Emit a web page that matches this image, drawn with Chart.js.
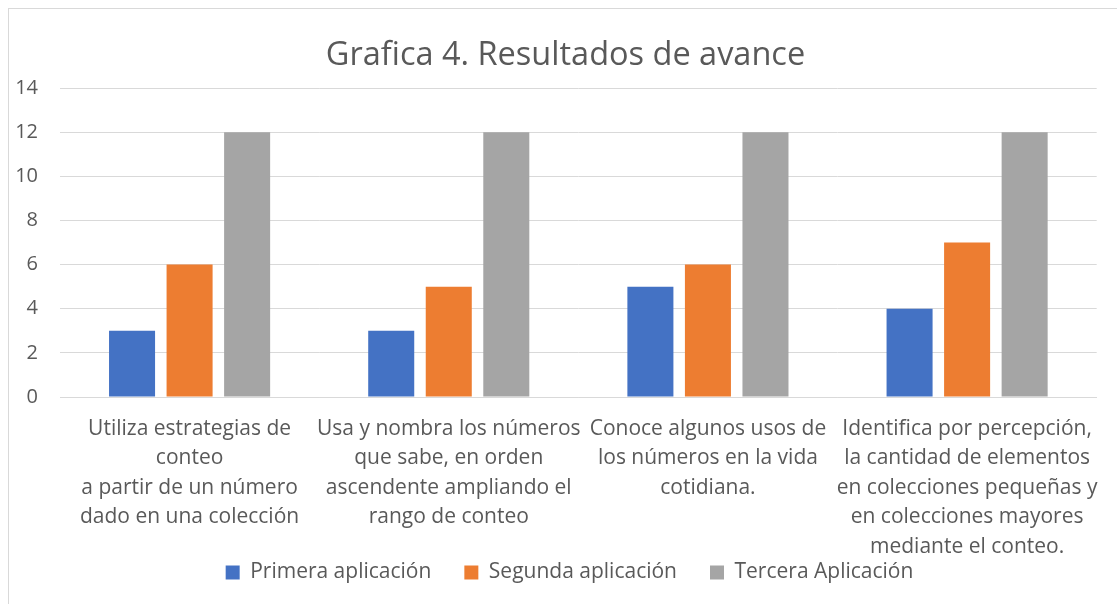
<!DOCTYPE html>
<html><head><meta charset="utf-8">
<script src="https://cdn.jsdelivr.net/npm/chart.js@4.4.1/dist/chart.umd.min.js"></script>
<style>
html,body{margin:0;padding:0;background:#fff;overflow:hidden;}
#frame{position:absolute;left:8px;top:8px;width:1200px;height:700px;border-left:1px solid #d9d9d9;border-top:1px solid #d9d9d9;}
#wrap{position:absolute;left:0;top:0;width:1117px;height:604px;}
</style></head><body>
<div id="frame"></div>
<div id="wrap"><canvas id="c"></canvas></div>
<script>
const titleText = "Grafica 4. Resultados de avance";
const categories = [
  ["Utiliza estrategias de", "conteo", "a partir de un número", "dado en una colección"],
  ["Usa y nombra los números", "que sabe, en orden", "ascendente ampliando el", "rango de conteo"],
  ["Conoce algunos usos de", "los números en la vida", "cotidiana."],
  ["Identifica por percepción,", "la cantidad de elementos", "en colecciones pequeñas y", "en colecciones mayores", "mediante el conteo."]
];
const seriesNames = ["Primera aplicación", "Segunda aplicación", "Tercera Aplicación"];
const primera = [3, 3, 5, 4];
const segunda = [6, 5, 6, 7];
const tercera = [12, 12, 12, 12];
const yTicks = [0, 2, 4, 6, 8, 10, 12, 14];

const colors = ["#4472C4", "#ED7D31", "#A5A5A5"];
const txt = "#595959";
const fam = "'Open Sans', sans-serif";

const shiftBlocks = {
  id: 'shiftBlocks',
  afterLayout(chart) {
    const t = chart.titleBlock;
    if (t) { t.left += 13; t.right += 13; }
    const l = chart.legend;
    if (l) { l.left += 17; l.right += 17; }
  }
};

new Chart(document.getElementById('c'), {
  type: 'bar',
  data: {
    labels: categories,
    datasets: [
      {label: seriesNames[0], data: primera, backgroundColor: colors[0]},
      {label: seriesNames[1], data: segunda, backgroundColor: colors[1]},
      {label: seriesNames[2], data: tercera, backgroundColor: colors[2]}
    ]
  },
  plugins: [shiftBlocks],
  options: {
    responsive: true,
    maintainAspectRatio: false,
    animation: false,
    layout: {padding: {left: 8, right: 20, top: 0, bottom: 11}},
    datasets: {bar: {categoryPercentage: 0.666, barPercentage: 0.8}},
    plugins: {
      title: {display: true, text: titleText, color: txt,
        font: {family: fam, size: 32.5, weight: 'normal'}, padding: {top: 36, bottom: 13}},
      legend: {position: 'bottom',
        labels: {color: txt, font: {family: fam, size: 21}, boxWidth: 14, boxHeight: 14, padding: 33}},
      tooltip: {enabled: false}
    },
    scales: {
      x: {
        afterFit: (s) => { s.height = 132; s._computeLabelArea = () => undefined; },
        grid: {display: false, drawTicks: false},
        border: {display: true, color: '#d9d9d9'},
        ticks: {color: txt, font: {family: fam, size: 21, lineHeight: 1.405}, maxRotation: 0, minRotation: 0, autoSkip: false, padding: 17}
      },
      y: {
        min: 0, max: 14,
        afterBuildTicks: (s) => { s.ticks = yTicks.map(v => ({value: v})); },
        afterFit: (s) => { s.width = 52; },
        grid: {color: '#d9d9d9', drawTicks: false},
        border: {display: false},
        ticks: {color: txt, font: {family: fam, size: 20}, padding: 22}
      }
    }
  }
});
</script>
</body></html>
